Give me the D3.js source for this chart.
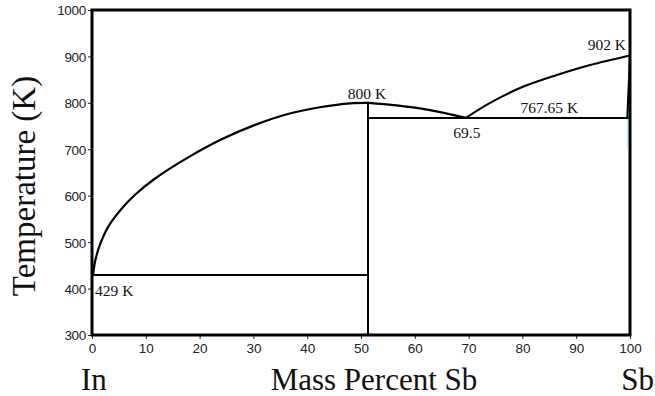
<!DOCTYPE html>
<html>
<head>
<meta charset="utf-8">
<script src="https://cdn.jsdelivr.net/npm/d3@7"></script>
<style>
  html, body { margin: 0; padding: 0; background: #fff; }
  svg { display: block; }
</style>
</head>
<body>
<svg id="chart" width="655" height="396"></svg>
<script>
// ---- data ----
const xTicks = [0, 10, 20, 30, 40, 50, 60, 70, 80, 90, 100];
const yTicks = [300, 400, 500, 600, 700, 800, 900, 1000];
// liquidus from In side up to the congruent compound peak (InSb)
const liquidusIn = [
  [0.2, 429], [0.6, 460], [1.5, 495], [3.0, 533], [5.5, 572], [8.0, 602],
  [11.6, 636], [17.8, 682], [24.0, 721], [30.2, 752], [36.4, 776],
  [42.6, 791], [48.0, 799], [51.3, 800]
];
// liquidus from the peak down to the eutectic
const liquidusMid = [[51.3, 800], [56.6, 794.5], [62.8, 784.5], [69.5, 767.65]];
// liquidus from eutectic to Sb melting point
const liquidusSb = [
  [69.5, 767.65], [74.0, 800], [80.2, 835], [86.4, 860], [92.6, 881.5], [100, 902]
];
const solidusSb = [[99.5, 767.65], [100, 902]];
const eutecticIn = [[0, 429], [51.3, 429]];
const eutecticSb = [[51.3, 767.65], [100, 767.65]];
const compoundLine = [[51.3, 300], [51.3, 800]];
const artifact = [[99.6, 767.65], [99.6, 700]];
const annotations = ["429 K", "800 K", "69.5", "767.65 K", "902 K"];
const xTitle = "Mass Percent Sb";
const yTitle = "Temperature (K)";
const leftLabel = "In";
const rightLabel = "Sb";

// ---- layout ----
const svg = d3.select("#chart");
const x = d3.scaleLinear().domain([0, 100]).range([92, 630]);
const y = d3.scaleLinear().domain([300, 1000]).range([335, 10]);
const serif = "'Liberation Serif', 'Times New Roman', serif";
const sans = "'Liberation Sans', Arial, sans-serif";

// axes
const xAxis = svg.append("g").attr("transform", `translate(0,${y(300)})`)
  .call(d3.axisBottom(x).tickValues(xTicks).tickFormat(d3.format("d"))
    .tickSize(4).tickSizeOuter(0).tickPadding(4));
const yAxis = svg.append("g").attr("transform", `translate(${x(0)},0)`)
  .call(d3.axisLeft(y).tickValues(yTicks).tickFormat(d3.format("d"))
    .tickSize(4).tickSizeOuter(0).tickPadding(2));
[xAxis, yAxis].forEach(g => {
  g.select(".domain").remove();
  g.selectAll(".tick line").attr("stroke", "#222").attr("stroke-width", 1);
  g.selectAll(".tick text").attr("fill", "#222").style("font-family", sans).style("font-size", "13.5px");
});
yAxis.selectAll(".tick text").attr("dy", "0.36em").style("letter-spacing", "-0.3px");

// frame
svg.append("rect")
  .attr("x", x(0)).attr("y", y(1000))
  .attr("width", x(100) - x(0)).attr("height", y(300) - y(1000))
  .attr("fill", "none").attr("stroke", "#000").attr("stroke-width", 3);

const line = d3.line().x(d => x(d[0])).y(d => y(d[1]));
const curve = d3.line().x(d => x(d[0])).y(d => y(d[1])).curve(d3.curveCatmullRom.alpha(0.5));

svg.append("path").datum(artifact).attr("d", line)
  .attr("fill", "none").attr("stroke", "#4fb8e8").attr("stroke-width", 1).attr("opacity", 0.6);

[eutecticIn, eutecticSb, compoundLine, solidusSb].forEach(d => {
  svg.append("path").datum(d).attr("d", line)
    .attr("fill", "none").attr("stroke", "#000").attr("stroke-width", 2);
});
[liquidusIn, liquidusMid, liquidusSb].forEach(d => {
  svg.append("path").datum(d).attr("d", curve)
    .attr("fill", "none").attr("stroke", "#000").attr("stroke-width", 2.2)
    .attr("stroke-linecap", "round");
});

// annotations
const ann = [
  { t: annotations[0], px: x(0) + 3, py: y(429) + 21, a: "start" },
  { t: annotations[1], px: x(51.3) - 1, py: y(800) - 4, a: "middle" },
  { t: annotations[2], px: x(69.5) + 1, py: y(767.65) + 20, a: "middle" },
  { t: annotations[3], px: x(85), py: y(767.65) - 5, a: "middle" },
  { t: annotations[4], px: x(100) - 4, py: y(902) - 6, a: "end" }
];
svg.append("g").selectAll("text").data(ann).join("text")
  .attr("x", d => d.px).attr("y", d => d.py)
  .attr("text-anchor", d => d.a)
  .style("font-family", serif).style("font-size", "15.5px").attr("fill", "#111")
  .text(d => d.t);

// titles
svg.append("text")
  .attr("transform", `translate(35,186) rotate(-90)`)
  .attr("text-anchor", "middle")
  .style("font-family", serif).style("font-size", "33px").attr("fill", "#111")
  .text(yTitle);
svg.append("text").attr("x", 374).attr("y", 390).attr("text-anchor", "middle")
  .style("font-family", serif).style("font-size", "31px").attr("fill", "#111")
  .text(xTitle);
svg.append("text").attr("x", 81).attr("y", 390).attr("text-anchor", "start")
  .style("font-family", serif).style("font-size", "31px").attr("fill", "#111")
  .text(leftLabel);
svg.append("text").attr("x", 654).attr("y", 390).attr("text-anchor", "end")
  .style("font-family", serif).style("font-size", "31px").attr("fill", "#111")
  .text(rightLabel);
</script>
</body>
</html>
